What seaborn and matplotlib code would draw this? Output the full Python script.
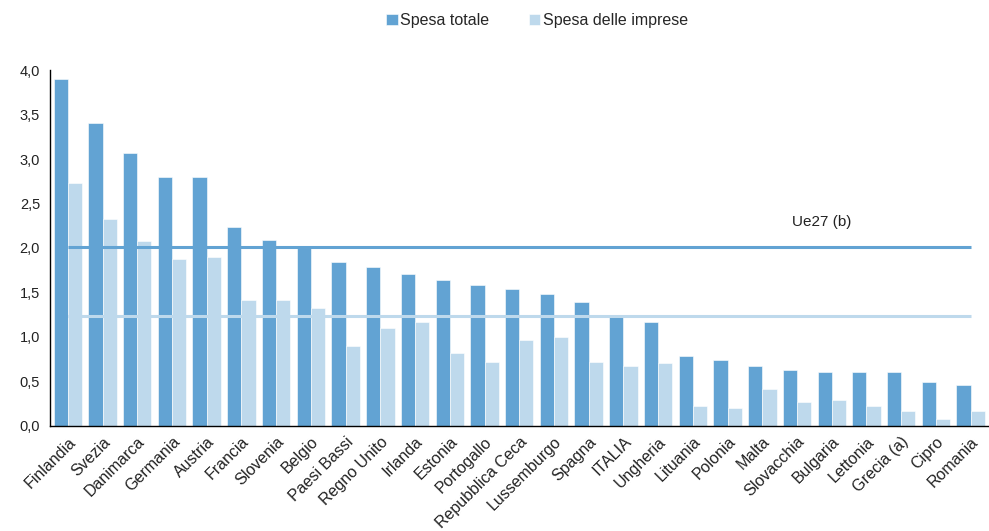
import pandas as pd
import matplotlib.pyplot as plt
import matplotlib.transforms as mtransforms
import seaborn as sns
from matplotlib.ticker import FuncFormatter, MultipleLocator

paesi = ['Finlandia', 'Svezia', 'Danimarca', 'Germania', 'Austria', 'Francia',
         'Slovenia', 'Belgio', 'Paesi Bassi', 'Regno Unito', 'Irlanda', 'Estonia',
         'Portogallo', 'Repubblica Ceca', 'Lussemburgo', 'Spagna', 'ITALIA',
         'Ungheria', 'Lituania', 'Polonia', 'Malta', 'Slovacchia', 'Bulgaria',
         'Lettonia', 'Grecia (a)', 'Cipro', 'Romania']
spesa_totale = [3.90, 3.40, 3.07, 2.80, 2.80, 2.24, 2.09, 2.01, 1.84, 1.79, 1.71, 1.64,
                1.58, 1.54, 1.48, 1.39, 1.22, 1.17, 0.79, 0.74, 0.67, 0.63, 0.60,
                0.60, 0.60, 0.49, 0.46]
spesa_imprese = [2.73, 2.33, 2.08, 1.88, 1.90, 1.41, 1.41, 1.33, 0.90, 1.10, 1.17, 0.82,
                 0.72, 0.97, 1.00, 0.72, 0.67, 0.71, 0.22, 0.20, 0.41, 0.27, 0.29,
                 0.22, 0.17, 0.08, 0.17]
ue27_totale = 2.01
ue27_imprese = 1.24

df = pd.DataFrame({
    'paese': paesi * 2,
    'valore': spesa_totale + spesa_imprese,
    'serie': ['Spesa totale'] * len(paesi) + ['Spesa delle imprese'] * len(paesi),
})

scuro = '#62A3D3'
chiaro = '#BED9EC'

sns.set_style('white')
plt.rcParams['font.family'] = ['Liberation Sans', 'DejaVu Sans']

fig = plt.figure(figsize=(9.89, 5.31), dpi=100)
ax = fig.add_axes([0.051, 0.198, 0.948, 0.670])

sns.barplot(data=df, x='paese', y='valore', hue='serie', order=paesi,
            palette=[scuro, chiaro], saturation=1, width=0.82,
            edgecolor='white', linewidth=0.4, ax=ax)

n = len(paesi)
ax.hlines(ue27_totale, 0, n - 1, color=scuro, lw=2.2, zorder=3)
ax.hlines(ue27_imprese, 0, n - 1, color=chiaro, lw=2.2, zorder=3)
ax.text(20.86, 2.29, 'Ue27 (b)', fontsize=11, color='#222222', va='center')

ax.set_xlim(-0.5, n - 0.5)
ax.set_ylim(0, 4.0)
ax.yaxis.set_major_locator(MultipleLocator(0.5))
ax.yaxis.set_major_formatter(FuncFormatter(lambda v, p: f'{v:.1f}'.replace('.', ',')))
ax.set_xlabel('')
ax.set_ylabel('')

ax.set_xticks(range(n))
ax.set_xticklabels(paesi, rotation=45, ha='right', rotation_mode='anchor',
                   fontsize=11.5, color='#222222')
sposta = mtransforms.ScaledTranslation(-4 / 100, -3 / 100, fig.dpi_scale_trans)
for lab in ax.get_xticklabels():
    lab.set_transform(lab.get_transform() + sposta)
ax.set_xticks([i - 0.5 for i in range(n + 1)], minor=True)
ax.tick_params(axis='x', which='major', length=0, pad=6)
ax.tick_params(axis='x', which='minor', length=5, width=1, color='black', direction='out')
ax.tick_params(axis='y', length=4, width=1, color='black', direction='out',
               labelsize=10.5, labelcolor='#222222')

sns.despine(ax=ax)
for s in ['left', 'bottom']:
    ax.spines[s].set_color('black')
    ax.spines[s].set_linewidth(1)

ax.legend(loc='center', bbox_to_anchor=(0.519, 1.14), ncol=2,
          frameon=False, fontsize=11.5, handlelength=0.7, handleheight=0.7,
          handletextpad=0.15, columnspacing=2.5)

fig.savefig('out.png', dpi=100)
